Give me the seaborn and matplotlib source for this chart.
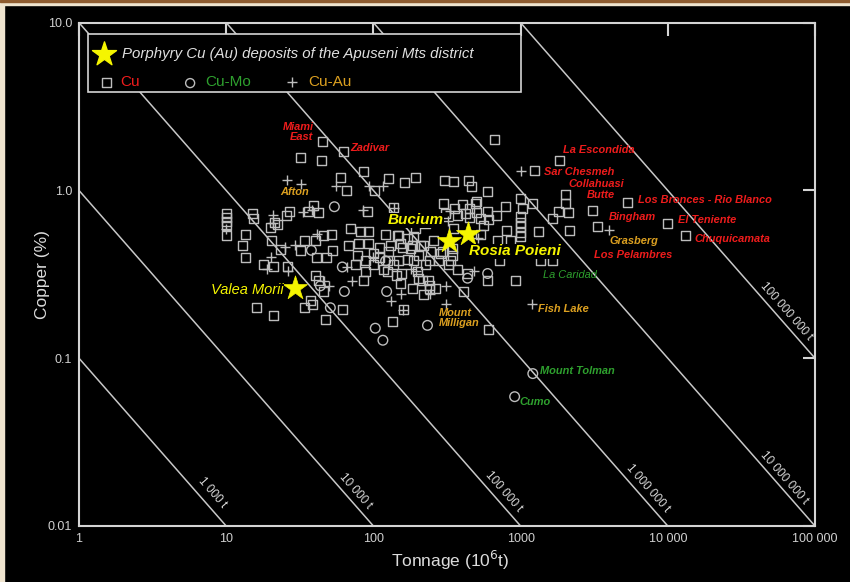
import numpy as np
import seaborn as sns
import matplotlib.pyplot as plt
from matplotlib.patches import Rectangle
from matplotlib.ticker import LogLocator, NullFormatter

# Cu deposits: tonnage (10^6 t) and grade (% Cu)
cu_tonnage = [45, 31.9, 44.3, 62.5, 85.5, 59.6, 65.5, 102, 127, 163,
              194, 39.1, 42.3, 36.2, 26.8, 25.6, 91.1, 137, 10, 10,
              10, 10, 10, 15.1, 15.3, 19.9, 21.2, 22.2, 13.6, 13.0,
              13.6, 20.2, 23.3, 34.0, 40.3, 45.7, 51.8, 31.9, 69.8, 67.6,
              79.2, 92.5, 92.5, 81.6, 110, 127, 149, 171, 41.0, 47.9,
              52.6, 75.5, 88.2, 88.2, 110, 137, 17.8, 20.9, 26.0, 40.3,
              42.3, 45.7, 85.5, 16.0, 20.9, 34.0, 37.3, 38.5, 61.5, 47.1,
              135, 160, 153, 179, 209, 188, 226, 203, 241, 219,
              153, 155, 305, 350, 443, 464, 597, 666, 1840, 1250,
              2020, 1000, 1210, 1030, 1000, 1000, 1000, 1000, 1000, 1650,
              2020, 1810, 2120, 2150, 1330, 3090, 3340, 5350, 10000, 13200,
              790, 687, 597, 535, 502, 561, 803, 300, 356, 404,
              450, 494, 423, 373, 309, 450, 350, 535, 121, 146,
              188, 131, 158, 185, 219, 256, 203, 244, 295, 345,
              345, 241, 277, 334, 125, 149, 185, 216, 240, 264,
              410, 436, 597, 924, 607, 502, 100, 77.9, 171, 286,
              100, 117, 324, 373, 125, 144, 200, 237, 607, 698,
              855, 720, 1650, 1370, 153, 226, 194]
cu_grade = [1.96, 1.57, 1.51, 1.71, 1.29, 1.19, 1.0, 1.0, 1.18, 1.12,
            1.19, 0.81, 0.74, 0.75, 0.75, 0.71, 0.75, 0.79, 0.73, 0.69,
            0.65, 0.62, 0.54, 0.73, 0.68, 0.60, 0.64, 0.63, 0.55, 0.47,
            0.40, 0.50, 0.445, 0.50, 0.50, 0.54, 0.55, 0.44, 0.59, 0.47,
            0.48, 0.48, 0.57, 0.57, 0.46, 0.43, 0.54, 0.52, 0.40, 0.40,
            0.44, 0.36, 0.38, 0.33, 0.40, 0.36, 0.36, 0.35, 0.35, 0.31,
            0.29, 0.25, 0.29, 0.20, 0.18, 0.20, 0.22, 0.21, 0.195, 0.17,
            0.166, 0.195, 0.48, 0.45, 0.47, 0.38, 0.36, 0.30, 0.27, 0.24,
            0.28, 0.32, 1.15, 1.13, 1.15, 1.06, 0.99, 2.0, 1.51, 1.31,
            0.95, 0.90, 0.84, 0.78, 0.70, 0.645, 0.61, 0.56, 0.53, 0.68,
            0.84, 0.75, 0.74, 0.58, 0.57, 0.76, 0.61, 0.85, 0.635, 0.54,
            0.80, 0.71, 0.75, 0.68, 0.74, 0.62, 0.58, 0.84, 0.78, 0.82,
            0.78, 0.84, 0.73, 0.71, 0.73, 0.69, 0.59, 0.55, 0.55, 0.54,
            0.53, 0.47, 0.46, 0.47, 0.47, 0.50, 0.41, 0.43, 0.43, 0.45,
            0.41, 0.38, 0.38, 0.38, 0.38, 0.38, 0.26, 0.29, 0.26, 0.26,
            0.25, 0.32, 0.29, 0.29, 0.149, 0.86, 0.42, 0.41, 0.39, 0.42,
            0.36, 0.34, 0.36, 0.34, 0.33, 0.31, 0.33, 0.29, 0.67, 0.50,
            0.50, 0.38, 0.38, 0.38, 0.66, 0.635, 0.59]

# Cu-Mo deposits
cumo_tonnage = [54.3, 37.9, 61.5, 121, 43.6, 63.5, 123, 51, 103, 116,
                233, 436, 597, 1210, 911]
cumo_grade = [0.80, 0.44, 0.35, 0.38, 0.27, 0.25, 0.25, 0.20, 0.151, 0.128,
              0.157, 0.30, 0.32, 0.081, 0.059]

# Cu-Au deposits
cuau_tonnage = [26.0, 32.4, 56.0, 94, 116, 85.5, 33.4, 38.5, 20.9, 20.9,
                10, 41.6, 29.4, 25.2, 20.2, 19.0, 26.4, 46.4, 50.2, 66.5,
                72.0, 100, 131, 155, 241, 309, 309, 1190, 1000, 3970,
                194, 179, 479, 334, 137, 160, 510, 319]
cuau_grade = [1.16, 1.09, 1.06, 1.07, 1.06, 0.76, 0.74, 0.77, 0.71, 0.64,
              0.59, 0.55, 0.47, 0.46, 0.40, 0.34, 0.33, 0.29, 0.27, 0.35,
              0.29, 0.40, 0.22, 0.24, 0.24, 0.27, 0.21, 0.21, 1.31, 0.58,
              0.33, 0.34, 0.33, 0.75, 0.79, 0.195, 0.52, 0.66]

# Apuseni Mts deposits
apuseni_names = ["Bucium", "Rosia Poieni", "Valea Morii"]
apuseni_tonnage = [324, 436, 29.5]
apuseni_grade = [0.50, 0.553, 0.264]

# contained-metal iso-lines (t Cu)
metal_tonnes = [1e3, 1e4, 1e5, 1e6, 1e7, 1e8]
metal_labels = ["1 000 t", "10 000 t", "100 000 t", "1 000 000 t",
                "10 000 000 t", "100 000 000 t"]

x_ticks = [1, 10, 100, 1000, 10000, 100000]
x_tick_labels = ["1", "10", "100", "1000", "10 000", "100 000"]
y_ticks = [0.01, 0.1, 1, 10]
y_tick_labels = ["0.01", "0.1", "1.0", "10.0"]

sns.set_style("dark")
plt.rcParams['font.family'] = ['Liberation Sans', 'DejaVu Sans']

RED = '#ee1c1c'
GREEN = '#2ea02e'
ORANGE = '#dca020'
YELLOW = '#f5f500'
GREY = '#d4d4d4'
MARK = '#bdbdbd'

fig = plt.figure(figsize=(8.5, 5.82), dpi=100, facecolor='black')
ax = fig.add_axes([79 / 850, 56 / 582, 736 / 850, 503.3 / 582])
ax.set_facecolor('black')

# frame of the page (beige / brown edges)
fig.patches.append(Rectangle((0, 0), 4 / 850, 1, transform=fig.transFigure,
                             color='#efe4cf', zorder=0))
fig.patches.append(Rectangle((0, 1 - 5 / 582), 1, 5 / 582, transform=fig.transFigure,
                             color='#efe4cf', zorder=0))
fig.patches.append(Rectangle((0, 1 - 2 / 582), 1, 2 / 582, transform=fig.transFigure,
                             color='#8e5c30', zorder=0))

ax.set_xscale('log')
ax.set_yscale('log')

# iso-lines of contained copper
xs = np.array([1, 1e5])
for m in metal_tonnes:
    ax.plot(xs, m / (xs * 1e4), color='#c8c8c8', lw=1.1, zorder=1)

sns.scatterplot(x=cu_tonnage, y=cu_grade, marker='s', s=42, facecolor='none',
                edgecolor=MARK, linewidth=1.0, ax=ax, zorder=3, legend=False)
sns.scatterplot(x=cumo_tonnage, y=cumo_grade, marker='o', s=48, facecolor='none',
                edgecolor=MARK, linewidth=1.0, ax=ax, zorder=3, legend=False)
sns.scatterplot(x=cuau_tonnage, y=cuau_grade, marker='+', s=55, color=MARK,
                linewidth=1.0, ax=ax, zorder=3, legend=False)
sns.scatterplot(x=apuseni_tonnage, y=apuseni_grade, marker='*', s=330, color=YELLOW,
                edgecolor=YELLOW, linewidth=0.5, ax=ax, zorder=6, legend=False)

ax.set_xlim(1, 1e5)
ax.set_ylim(0.01, 10)

# line labels rotated along iso-lines
p1 = ax.transData.transform((1, 10))
p2 = ax.transData.transform((1000, 0.01))
angle = np.degrees(np.arctan2(p2[1] - p1[1], p2[0] - p1[0]))
line_label_pos = [(8.0, 0.0157), (75.5, 0.0161), (766, 0.0161),
                  (7310, 0.0168), (61500, 0.0193), (63500, 0.190)]
for (lx, ly), txt in zip(line_label_pos, metal_labels):
    ax.text(lx, ly, txt, rotation=angle, rotation_mode='anchor', ha='center',
            va='center', color='#d8d8d8', fontsize=8.5, zorder=2)

# deposit labels
SMALL = 7.9
labels = [
    ("Miami\nEast", 39.1, 2.24, RED, 'right', 'bold'),
    ("Zadivar", 69.8, 1.78, RED, 'left', 'bold'),
    ("Afton", 23.3, 0.973, ORANGE, 'left', 'bold'),
    ("La Escondida", 1930, 1.75, RED, 'left', 'bold'),
    ("Sar Chesmeh", 1433, 1.295, RED, 'left', 'bold'),
    ("Collahuasi", 2120, 1.086, RED, 'left', 'bold'),
    ("Butte", 2810, 0.934, RED, 'left', 'bold'),
    ("Los Bronces - Rio Blanco", 6250, 0.872, RED, 'left', 'bold'),
    ("Bingham", 3970, 0.691, RED, 'left', 'bold'),
    ("El Teniente", 11700, 0.663, RED, 'left', 'bold'),
    ("Chuquicamata", 15270, 0.512, RED, 'left', 'bold'),
    ("Grasberg", 4030, 0.497, ORANGE, 'left', 'bold'),
    ("Los Pelambres", 3140, 0.410, RED, 'left', 'bold'),
    ("La Caridad", 1412, 0.312, GREEN, 'left', 'normal'),
    ("Fish Lake", 1305, 0.196, ORANGE, 'left', 'bold'),
    ("Mount\nMilligan", 277, 0.173, ORANGE, 'left', 'bold'),
    ("Mount Tolman", 1347, 0.0837, GREEN, 'left', 'bold'),
    ("Cumo", 985, 0.0547, GREEN, 'left', 'bold'),
]
for txt, lx, ly, col, ha, weight in labels:
    ax.text(lx, ly, txt, color=col, ha=ha, va='center', style='italic',
            fontweight=weight, fontsize=SMALL, linespacing=0.95,
            multialignment=ha, zorder=7)

big_labels = [("Bucium", 124.5, 0.663, 'left', 'bold', 11),
              ("Rosia Poieni", 443, 0.433, 'left', 'bold', 11),
              ("Valea Morii", 24.4, 0.254, 'right', 'normal', 10.5)]
for txt, lx, ly, ha, weight, size in big_labels:
    ax.text(lx, ly, txt, color=YELLOW, ha=ha, va='center', style='italic',
            fontweight=weight, fontsize=size, zorder=7,
            bbox=dict(facecolor='black', edgecolor='none', pad=0.5))

# legend box
ax.add_patch(Rectangle((0.0122, 0.8623), 0.5883, 0.1152, transform=ax.transAxes,
                       facecolor='black', edgecolor=GREY, lw=1.2, zorder=8))
ax.scatter([0.034], [0.938], transform=ax.transAxes, marker='*', s=330,
           color=YELLOW, zorder=9, clip_on=False)
ax.text(0.0584, 0.938, "Porphyry Cu (Au) deposits of the Apuseni Mts district",
        transform=ax.transAxes, style='italic', fontsize=10.8, color='#e0e0e0',
        va='center', zorder=9)
ax.scatter([0.0367], [0.882], transform=ax.transAxes, marker='s', s=42,
           facecolor='none', edgecolor=MARK, lw=1.0, zorder=9)
ax.text(0.0557, 0.882, "Cu", transform=ax.transAxes, fontsize=11, color=RED,
        va='center', zorder=9)
ax.scatter([0.151], [0.880], transform=ax.transAxes, marker='o', s=42,
           facecolor='none', edgecolor=MARK, lw=1.0, zorder=9)
ax.text(0.1712, 0.882, "Cu-Mo", transform=ax.transAxes, fontsize=11, color=GREEN,
        va='center', zorder=9)
ax.scatter([0.2894], [0.882], transform=ax.transAxes, marker='+', s=50,
           color=MARK, lw=1.0, zorder=9)
ax.text(0.3111, 0.882, "Cu-Au", transform=ax.transAxes, fontsize=11, color=ORANGE,
        va='center', zorder=9)

# axes, ticks
ax.set_xticks(x_ticks)
ax.set_xticklabels(x_tick_labels)
ax.set_yticks(y_ticks)
ax.set_yticklabels(y_tick_labels)
ax.xaxis.set_minor_locator(LogLocator(base=10, subs=np.arange(2, 10)))
ax.yaxis.set_minor_locator(LogLocator(base=10, subs=np.arange(2, 10)))
ax.xaxis.set_minor_formatter(NullFormatter())
ax.yaxis.set_minor_formatter(NullFormatter())
ax.tick_params(which='major', direction='in', length=9, width=1.5, color=GREY,
               labelcolor='#d0d0d0', labelsize=9, top=True, right=True, pad=5)
ax.tick_params(which='minor', direction='in', length=4, width=1, color=GREY,
               top=False, right=False)
ax.grid(False)
for sp in ax.spines.values():
    sp.set_color(GREY)
    sp.set_linewidth(1.5)

ax.set_xlabel("Tonnage (10$^6$t)", color='#dcdcdc', fontsize=12.5)
ax.set_ylabel("Copper (%)", color='#dcdcdc', fontsize=12.5)
ax.xaxis.set_label_coords(0.505, -0.046)
ax.yaxis.set_label_coords(-0.040, 0.5)

fig.savefig("out.png", dpi=100, facecolor=fig.get_facecolor())
